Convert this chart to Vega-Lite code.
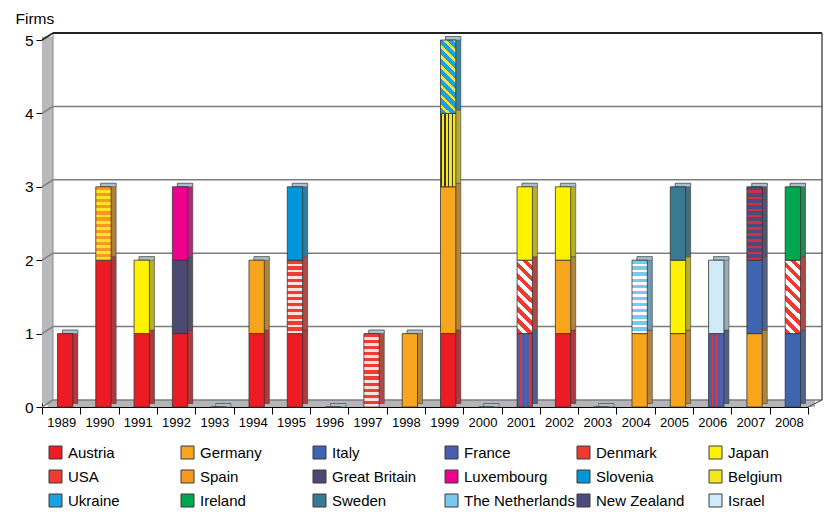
{
"$schema":"https://vega.github.io/schema/vega-lite/v6.json",
"width":766,"height":367,"autosize":"none",
"padding":{"left":42,"top":40,"right":17,"bottom":110},
"background":"#ffffff",
"config":{"view":{"stroke":null},"font":"Liberation Sans",
 "axis":{"labelOverlap":false},
 "axisX":{"labelAngle":0,"tickBand":"extent","tickSize":7,"tickColor":"#000","tickWidth":1,"domainColor":"#000","domainWidth":1,"labelFontSize":13,"labelColor":"#000","labelPadding":2,"zindex":1,"labelFont":"Liberation Sans","grid":false},
 "axisY":{"grid":false,"tickSize":6,"tickColor":"#000","domainColor":"#000","domainWidth":1,"labelFontSize":15.5,"labelColor":"#000","labelPadding":3,"labelOverlap":false,"zindex":1,"titleAngle":0,"titleAlign":"left","titleBaseline":"alphabetic","titleX":-27,"titleY":-17,"titleFontSize":15.5,"titleFontWeight":"normal","titleColor":"#000","titleFont":"Liberation Sans","labelFont":"Liberation Sans"}
},
"datasets":{
"countries":[{"country":"Austria","k":0},{"country":"Germany","k":1},{"country":"Italy","k":2},{"country":"France","k":3},{"country":"Denmark","k":4},{"country":"Japan","k":5},{"country":"USA","k":6},{"country":"Spain","k":7},{"country":"Great Britain","k":8},{"country":"Luxembourg","k":9},{"country":"Slovenia","k":10},{"country":"Belgium","k":11},{"country":"Ukraine","k":12},{"country":"Ireland","k":13},{"country":"Sweden","k":14},{"country":"The Netherlands","k":15},{"country":"New Zealand","k":16},{"country":"Israel","k":17}],
"firms":[
{"year":"1989","country":"Austria","n":1},
{"year":"1990","country":"Austria","n":2},{"year":"1990","country":"Spain","n":1},
{"year":"1991","country":"Austria","n":1},{"year":"1991","country":"Japan","n":1},
{"year":"1992","country":"Austria","n":1},{"year":"1992","country":"Great Britain","n":1},{"year":"1992","country":"Luxembourg","n":1},
{"year":"1993","country":"Austria","n":0},
{"year":"1994","country":"Austria","n":1},{"year":"1994","country":"Germany","n":1},
{"year":"1995","country":"Austria","n":1},{"year":"1995","country":"USA","n":1},{"year":"1995","country":"Slovenia","n":1},
{"year":"1996","country":"Austria","n":0},
{"year":"1997","country":"USA","n":1},
{"year":"1998","country":"Germany","n":1},
{"year":"1999","country":"Austria","n":1},{"year":"1999","country":"Germany","n":2},{"year":"1999","country":"Belgium","n":1},{"year":"1999","country":"Ukraine","n":1},
{"year":"2000","country":"Austria","n":0},
{"year":"2001","country":"France","n":1},{"year":"2001","country":"Denmark","n":1},{"year":"2001","country":"Japan","n":1},
{"year":"2002","country":"Austria","n":1},{"year":"2002","country":"Germany","n":1},{"year":"2002","country":"Japan","n":1},
{"year":"2003","country":"Austria","n":0},
{"year":"2004","country":"Germany","n":1},{"year":"2004","country":"The Netherlands","n":1},
{"year":"2005","country":"Germany","n":1},{"year":"2005","country":"Japan","n":1},{"year":"2005","country":"Sweden","n":1},
{"year":"2006","country":"France","n":1},{"year":"2006","country":"Israel","n":1},
{"year":"2007","country":"Germany","n":1},{"year":"2007","country":"Italy","n":1},{"year":"2007","country":"New Zealand","n":1},
{"year":"2008","country":"Italy","n":1},{"year":"2008","country":"Denmark","n":1},{"year":"2008","country":"Ireland","n":1}
]},
"layer":[
{"data":{"values":[{}]},"mark":{"type":"rect","fill":"#ffffff","xOffset":11,"x2Offset":14,"yOffset":-7,"y2Offset":-7},
 "encoding":{"x":{"value":0},"x2":{"value":"width"},"y":{"datum":5,"type":"quantitative","axis":{"values":[0,1,2,3,4,5],"format":"d","labelOverlap":false}},"y2":{"datum":0}}},
{"data":{"values":[{}]},"mark":{"type":"rect","fill":"#b9b9bd","x2Offset":11,"yOffset":-3.5,"y2Offset":-3.5},
 "encoding":{"x":{"value":0},"x2":{"value":0},"y":{"datum":5,"type":"quantitative"},"y2":{"datum":0}}},
{"data":{"values":[{}]},"mark":{"type":"rect","fill":"#b5b5b9","xOffset":5.5,"x2Offset":7,"yOffset":-7},
 "encoding":{"x":{"value":0},"x2":{"value":"width"},"y":{"datum":0,"type":"quantitative"},"y2":{"datum":0}}},
{"data":{"values":[{"g":0},{"g":1},{"g":2},{"g":3},{"g":4}]},"mark":{"type":"rule","stroke":"#7d7d7d","strokeWidth":1.5,"xOffset":11,"x2Offset":14,"yOffset":-7},
 "encoding":{"x":{"value":0},"x2":{"value":"width"},"y":{"field":"g","type":"quantitative","title":"Firms","axis":{"values":[0,1,2,3,4,5],"format":"d","labelOverlap":false}}}},
{"data":{"values":[{"g":0},{"g":1},{"g":2},{"g":3},{"g":4}]},"mark":{"type":"rule","stroke":"#7d7d7d","strokeWidth":1.5,"x2Offset":11,"y2Offset":-7},
 "encoding":{"x":{"value":0},"x2":{"value":0},"y":{"field":"g","type":"quantitative","title":"Firms","axis":{"values":[0,1,2,3,4,5],"format":"d","labelOverlap":false}},"y2":{"field":"g"}}},
{"data":{"values":[{}]},"mark":{"type":"rule","stroke":"#8a8a8a","strokeWidth":1,"xOffset":11,"yOffset":-7,"y2Offset":-7},
 "encoding":{"x":{"value":0},"y":{"datum":5,"type":"quantitative"},"y2":{"datum":0}}},
{"data":{"values":[{}]},"mark":{"type":"rule","stroke":"#222222","strokeWidth":2,"xOffset":11,"x2Offset":14,"yOffset":-7},
 "encoding":{"x":{"value":0},"x2":{"value":"width"},"y":{"datum":5,"type":"quantitative"}}},
{"data":{"values":[{}]},"mark":{"type":"rule","stroke":"#222222","strokeWidth":1.5,"x2Offset":11,"y2Offset":-7},
 "encoding":{"x":{"value":0},"x2":{"value":0},"y":{"datum":5,"type":"quantitative"},"y2":{"datum":5}}},
{"data":{"values":[{}]},"mark":{"type":"rule","stroke":"#555555","strokeWidth":1.5,"xOffset":14,"yOffset":-7,"y2Offset":-7},
 "encoding":{"x":{"value":"width"},"y":{"datum":5,"type":"quantitative"},"y2":{"datum":0}}},
{"data":{"values":[{}]},"mark":{"type":"rule","stroke":"#555555","strokeWidth":1.2,"x2Offset":14,"y2Offset":-7},
 "encoding":{"x":{"value":"width"},"x2":{"value":"width"},"y":{"datum":0,"type":"quantitative"},"y2":{"datum":0}}},
{"data":{"name":"firms"},"transform":[{"lookup":"country","from":{"data":{"name":"countries"},"key":"country","fields":["k"]}}],
 "mark":{"type":"bar","width":{"band":0.4},"xOffset":9,"yOffset":-3.5,"y2Offset":-3.5,"stroke":"#3a3a3a","strokeWidth":0.6},
 "encoding":{
  "x":{"field":"year","type":"ordinal","title":null,"scale":{"domain":["1989","1990","1991","1992","1993","1994","1995","1996","1997","1998","1999","2000","2001","2002","2003","2004","2005","2006","2007","2008"],"paddingInner":0,"paddingOuter":0}},
  "y":{"field":"n","type":"quantitative","stack":"zero","title":"Firms","axis":{"values":[0,1,2,3,4,5],"format":"d","labelOverlap":false}},
  "order":{"field":"k","type":"quantitative","sort":"ascending"},
  "color":{"field":"country","type":"nominal"}}},
{"data":{"name":"firms"},"transform":[{"aggregate":[{"op":"sum","field":"n","as":"total"}],"groupby":["year"]}],
 "mark":{"type":"bar","width":{"band":0.4},"xOffset":9,"yOffset":-3.5,"y2Offset":-3.5,"fill":"#606060","fillOpacity":0.45},
 "encoding":{"x":{"field":"year","type":"ordinal","title":null},"y":{"field":"total","type":"quantitative","title":"Firms","axis":{"values":[0,1,2,3,4,5],"format":"d","labelOverlap":false}},"y2":{"datum":0}}},
{"data":{"name":"firms"},"transform":[{"aggregate":[{"op":"sum","field":"n","as":"total"}],"groupby":["year"]}],
 "mark":{"type":"bar","width":{"band":0.4},"xOffset":9,"yOffset":-3.5,"fill":"#a9c1cd","stroke":"#555555","strokeWidth":0.6},
 "encoding":{"x":{"field":"year","type":"ordinal","title":null},"y":{"field":"total","type":"quantitative","title":"Firms","axis":{"values":[0,1,2,3,4,5],"format":"d","labelOverlap":false}},"y2":{"field":"total"}}},
{"data":{"name":"firms"},"transform":[{"lookup":"country","from":{"data":{"name":"countries"},"key":"country","fields":["k"]}}],
 "mark":{"type":"bar","width":{"band":0.4},"xOffset":4,"stroke":"#333333","strokeWidth":0.8},
 "encoding":{
  "x":{"field":"year","type":"ordinal","title":null},
  "y":{"field":"n","type":"quantitative","stack":"zero","title":"Firms","scale":{"domain":[0,5],"nice":false},"axis":{"values":[0,1,2,3,4,5],"format":"d","labelOverlap":false}},
  "order":{"field":"k","type":"quantitative","sort":"ascending"},
  "color":{
   "condition":[
    {"test":"datum.country === 'USA'","value":{"gradient":"linear","x1":1,"y1":0,"x2":1,"y2":1,"stops":[
{"offset":0,"color":"#ef3b32"},{"offset":0.045,"color":"#ef3b32"},{"offset":0.045,"color":"#fde2dc"},{"offset":0.0833,"color":"#fde2dc"},
{"offset":0.0833,"color":"#ef3b32"},{"offset":0.1283,"color":"#ef3b32"},{"offset":0.1283,"color":"#fde2dc"},{"offset":0.1667,"color":"#fde2dc"},
{"offset":0.1667,"color":"#ef3b32"},{"offset":0.2117,"color":"#ef3b32"},{"offset":0.2117,"color":"#fde2dc"},{"offset":0.25,"color":"#fde2dc"},
{"offset":0.25,"color":"#ef3b32"},{"offset":0.295,"color":"#ef3b32"},{"offset":0.295,"color":"#fde2dc"},{"offset":0.3333,"color":"#fde2dc"},
{"offset":0.3333,"color":"#ef3b32"},{"offset":0.3783,"color":"#ef3b32"},{"offset":0.3783,"color":"#fde2dc"},{"offset":0.4167,"color":"#fde2dc"},
{"offset":0.4167,"color":"#ef3b32"},{"offset":0.4617,"color":"#ef3b32"},{"offset":0.4617,"color":"#fde2dc"},{"offset":0.5,"color":"#fde2dc"},
{"offset":0.5,"color":"#ef3b32"},{"offset":0.545,"color":"#ef3b32"},{"offset":0.545,"color":"#fde2dc"},{"offset":0.5833,"color":"#fde2dc"},
{"offset":0.5833,"color":"#ef3b32"},{"offset":0.6283,"color":"#ef3b32"},{"offset":0.6283,"color":"#fde2dc"},{"offset":0.6667,"color":"#fde2dc"},
{"offset":0.6667,"color":"#ef3b32"},{"offset":0.7117,"color":"#ef3b32"},{"offset":0.7117,"color":"#fde2dc"},{"offset":0.75,"color":"#fde2dc"},
{"offset":0.75,"color":"#ef3b32"},{"offset":0.795,"color":"#ef3b32"},{"offset":0.795,"color":"#fde2dc"},{"offset":0.8333,"color":"#fde2dc"},
{"offset":0.8333,"color":"#ef3b32"},{"offset":0.8783,"color":"#ef3b32"},{"offset":0.8783,"color":"#fde2dc"},{"offset":0.9167,"color":"#fde2dc"},
{"offset":0.9167,"color":"#ef3b32"},{"offset":0.9617,"color":"#ef3b32"},{"offset":0.9617,"color":"#fde2dc"},{"offset":1,"color":"#fde2dc"}]}},
    {"test":"datum.country === 'Spain'","value":{"gradient":"linear","x1":1,"y1":0,"x2":1,"y2":1,"stops":[
{"offset":0,"color":"#f59a1f"},{"offset":0.045,"color":"#f59a1f"},{"offset":0.045,"color":"#ffe32a"},{"offset":0.0833,"color":"#ffe32a"},
{"offset":0.0833,"color":"#f59a1f"},{"offset":0.1283,"color":"#f59a1f"},{"offset":0.1283,"color":"#ffe32a"},{"offset":0.1667,"color":"#ffe32a"},
{"offset":0.1667,"color":"#f59a1f"},{"offset":0.2117,"color":"#f59a1f"},{"offset":0.2117,"color":"#ffe32a"},{"offset":0.25,"color":"#ffe32a"},
{"offset":0.25,"color":"#f59a1f"},{"offset":0.295,"color":"#f59a1f"},{"offset":0.295,"color":"#ffe32a"},{"offset":0.3333,"color":"#ffe32a"},
{"offset":0.3333,"color":"#f59a1f"},{"offset":0.3783,"color":"#f59a1f"},{"offset":0.3783,"color":"#ffe32a"},{"offset":0.4167,"color":"#ffe32a"},
{"offset":0.4167,"color":"#f59a1f"},{"offset":0.4617,"color":"#f59a1f"},{"offset":0.4617,"color":"#ffe32a"},{"offset":0.5,"color":"#ffe32a"},
{"offset":0.5,"color":"#f59a1f"},{"offset":0.545,"color":"#f59a1f"},{"offset":0.545,"color":"#ffe32a"},{"offset":0.5833,"color":"#ffe32a"},
{"offset":0.5833,"color":"#f59a1f"},{"offset":0.6283,"color":"#f59a1f"},{"offset":0.6283,"color":"#ffe32a"},{"offset":0.6667,"color":"#ffe32a"},
{"offset":0.6667,"color":"#f59a1f"},{"offset":0.7117,"color":"#f59a1f"},{"offset":0.7117,"color":"#ffe32a"},{"offset":0.75,"color":"#ffe32a"},
{"offset":0.75,"color":"#f59a1f"},{"offset":0.795,"color":"#f59a1f"},{"offset":0.795,"color":"#ffe32a"},{"offset":0.8333,"color":"#ffe32a"},
{"offset":0.8333,"color":"#f59a1f"},{"offset":0.8783,"color":"#f59a1f"},{"offset":0.8783,"color":"#ffe32a"},{"offset":0.9167,"color":"#ffe32a"},
{"offset":0.9167,"color":"#f59a1f"},{"offset":0.9617,"color":"#f59a1f"},{"offset":0.9617,"color":"#ffe32a"},{"offset":1,"color":"#ffe32a"}]}},
    {"test":"datum.country === 'The Netherlands'","value":{"gradient":"linear","x1":1,"y1":0,"x2":1,"y2":1,"stops":[
{"offset":0,"color":"#7cc8ec"},{"offset":0.045,"color":"#7cc8ec"},{"offset":0.045,"color":"#ffffff"},{"offset":0.0833,"color":"#ffffff"},
{"offset":0.0833,"color":"#7cc8ec"},{"offset":0.1283,"color":"#7cc8ec"},{"offset":0.1283,"color":"#ffffff"},{"offset":0.1667,"color":"#ffffff"},
{"offset":0.1667,"color":"#7cc8ec"},{"offset":0.2117,"color":"#7cc8ec"},{"offset":0.2117,"color":"#ffffff"},{"offset":0.25,"color":"#ffffff"},
{"offset":0.25,"color":"#7cc8ec"},{"offset":0.295,"color":"#7cc8ec"},{"offset":0.295,"color":"#ffffff"},{"offset":0.3333,"color":"#ffffff"},
{"offset":0.3333,"color":"#7cc8ec"},{"offset":0.3783,"color":"#7cc8ec"},{"offset":0.3783,"color":"#ffffff"},{"offset":0.4167,"color":"#ffffff"},
{"offset":0.4167,"color":"#7cc8ec"},{"offset":0.4617,"color":"#7cc8ec"},{"offset":0.4617,"color":"#ffffff"},{"offset":0.5,"color":"#ffffff"},
{"offset":0.5,"color":"#7cc8ec"},{"offset":0.545,"color":"#7cc8ec"},{"offset":0.545,"color":"#ffffff"},{"offset":0.5833,"color":"#ffffff"},
{"offset":0.5833,"color":"#7cc8ec"},{"offset":0.6283,"color":"#7cc8ec"},{"offset":0.6283,"color":"#ffffff"},{"offset":0.6667,"color":"#ffffff"},
{"offset":0.6667,"color":"#7cc8ec"},{"offset":0.7117,"color":"#7cc8ec"},{"offset":0.7117,"color":"#ffffff"},{"offset":0.75,"color":"#ffffff"},
{"offset":0.75,"color":"#7cc8ec"},{"offset":0.795,"color":"#7cc8ec"},{"offset":0.795,"color":"#ffffff"},{"offset":0.8333,"color":"#ffffff"},
{"offset":0.8333,"color":"#7cc8ec"},{"offset":0.8783,"color":"#7cc8ec"},{"offset":0.8783,"color":"#ffffff"},{"offset":0.9167,"color":"#ffffff"},
{"offset":0.9167,"color":"#7cc8ec"},{"offset":0.9617,"color":"#7cc8ec"},{"offset":0.9617,"color":"#ffffff"},{"offset":1,"color":"#ffffff"}]}},
    {"test":"datum.country === 'New Zealand'","value":{"gradient":"linear","x1":1,"y1":0,"x2":1,"y2":1,"stops":[
{"offset":0,"color":"#4d4a7d"},{"offset":0.05,"color":"#4d4a7d"},{"offset":0.05,"color":"#d0333f"},{"offset":0.0833,"color":"#d0333f"},
{"offset":0.0833,"color":"#4d4a7d"},{"offset":0.1333,"color":"#4d4a7d"},{"offset":0.1333,"color":"#d0333f"},{"offset":0.1667,"color":"#d0333f"},
{"offset":0.1667,"color":"#4d4a7d"},{"offset":0.2167,"color":"#4d4a7d"},{"offset":0.2167,"color":"#d0333f"},{"offset":0.25,"color":"#d0333f"},
{"offset":0.25,"color":"#4d4a7d"},{"offset":0.3,"color":"#4d4a7d"},{"offset":0.3,"color":"#d0333f"},{"offset":0.3333,"color":"#d0333f"},
{"offset":0.3333,"color":"#4d4a7d"},{"offset":0.3833,"color":"#4d4a7d"},{"offset":0.3833,"color":"#d0333f"},{"offset":0.4167,"color":"#d0333f"},
{"offset":0.4167,"color":"#4d4a7d"},{"offset":0.4667,"color":"#4d4a7d"},{"offset":0.4667,"color":"#d0333f"},{"offset":0.5,"color":"#d0333f"},
{"offset":0.5,"color":"#4d4a7d"},{"offset":0.55,"color":"#4d4a7d"},{"offset":0.55,"color":"#d0333f"},{"offset":0.5833,"color":"#d0333f"},
{"offset":0.5833,"color":"#4d4a7d"},{"offset":0.6333,"color":"#4d4a7d"},{"offset":0.6333,"color":"#d0333f"},{"offset":0.6667,"color":"#d0333f"},
{"offset":0.6667,"color":"#4d4a7d"},{"offset":0.7167,"color":"#4d4a7d"},{"offset":0.7167,"color":"#d0333f"},{"offset":0.75,"color":"#d0333f"},
{"offset":0.75,"color":"#4d4a7d"},{"offset":0.8,"color":"#4d4a7d"},{"offset":0.8,"color":"#d0333f"},{"offset":0.8333,"color":"#d0333f"},
{"offset":0.8333,"color":"#4d4a7d"},{"offset":0.8833,"color":"#4d4a7d"},{"offset":0.8833,"color":"#d0333f"},{"offset":0.9167,"color":"#d0333f"},
{"offset":0.9167,"color":"#4d4a7d"},{"offset":0.9667,"color":"#4d4a7d"},{"offset":0.9667,"color":"#d0333f"},{"offset":1,"color":"#d0333f"}]}},
    {"test":"datum.country === 'Denmark'","value":{"gradient":"linear","x1":0,"y1":1,"x2":0.24,"y2":-0.16,"stops":[
{"offset":0,"color":"#ee3a31"},{"offset":0.0625,"color":"#ee3a31"},{"offset":0.0625,"color":"#ffffff"},{"offset":0.125,"color":"#ffffff"},
{"offset":0.125,"color":"#ee3a31"},{"offset":0.1875,"color":"#ee3a31"},{"offset":0.1875,"color":"#ffffff"},{"offset":0.25,"color":"#ffffff"},
{"offset":0.25,"color":"#ee3a31"},{"offset":0.3125,"color":"#ee3a31"},{"offset":0.3125,"color":"#ffffff"},{"offset":0.375,"color":"#ffffff"},
{"offset":0.375,"color":"#ee3a31"},{"offset":0.4375,"color":"#ee3a31"},{"offset":0.4375,"color":"#ffffff"},{"offset":0.5,"color":"#ffffff"},
{"offset":0.5,"color":"#ee3a31"},{"offset":0.5625,"color":"#ee3a31"},{"offset":0.5625,"color":"#ffffff"},{"offset":0.625,"color":"#ffffff"},
{"offset":0.625,"color":"#ee3a31"},{"offset":0.6875,"color":"#ee3a31"},{"offset":0.6875,"color":"#ffffff"},{"offset":0.75,"color":"#ffffff"},
{"offset":0.75,"color":"#ee3a31"},{"offset":0.8125,"color":"#ee3a31"},{"offset":0.8125,"color":"#ffffff"},{"offset":0.875,"color":"#ffffff"},
{"offset":0.875,"color":"#ee3a31"},{"offset":0.9375,"color":"#ee3a31"},{"offset":0.9375,"color":"#ffffff"},{"offset":1,"color":"#ffffff"}]}},
    {"test":"datum.country === 'Ukraine'","value":{"gradient":"linear","x1":0,"y1":1,"x2":0.24,"y2":-0.16,"stops":[
{"offset":0,"color":"#1ba1dd"},{"offset":0.07,"color":"#1ba1dd"},{"offset":0.07,"color":"#f3e53a"},{"offset":0.111,"color":"#f3e53a"},
{"offset":0.111,"color":"#1ba1dd"},{"offset":0.181,"color":"#1ba1dd"},{"offset":0.181,"color":"#f3e53a"},{"offset":0.222,"color":"#f3e53a"},
{"offset":0.222,"color":"#1ba1dd"},{"offset":0.292,"color":"#1ba1dd"},{"offset":0.292,"color":"#f3e53a"},{"offset":0.333,"color":"#f3e53a"},
{"offset":0.333,"color":"#1ba1dd"},{"offset":0.403,"color":"#1ba1dd"},{"offset":0.403,"color":"#f3e53a"},{"offset":0.444,"color":"#f3e53a"},
{"offset":0.444,"color":"#1ba1dd"},{"offset":0.514,"color":"#1ba1dd"},{"offset":0.514,"color":"#f3e53a"},{"offset":0.556,"color":"#f3e53a"},
{"offset":0.556,"color":"#1ba1dd"},{"offset":0.626,"color":"#1ba1dd"},{"offset":0.626,"color":"#f3e53a"},{"offset":0.667,"color":"#f3e53a"},
{"offset":0.667,"color":"#1ba1dd"},{"offset":0.737,"color":"#1ba1dd"},{"offset":0.737,"color":"#f3e53a"},{"offset":0.778,"color":"#f3e53a"},
{"offset":0.778,"color":"#1ba1dd"},{"offset":0.848,"color":"#1ba1dd"},{"offset":0.848,"color":"#f3e53a"},{"offset":0.889,"color":"#f3e53a"},
{"offset":0.889,"color":"#1ba1dd"},{"offset":0.959,"color":"#1ba1dd"},{"offset":0.959,"color":"#f3e53a"},{"offset":1,"color":"#f3e53a"}]}},
    {"test":"datum.country === 'France'","value":{"gradient":"linear","x1":0,"y1":0,"x2":1,"y2":0,"stops":[
{"offset":0,"color":"#4a5fab"},{"offset":0.2,"color":"#4a5fab"},{"offset":0.2,"color":"#e0353b"},{"offset":0.3,"color":"#e0353b"},
{"offset":0.3,"color":"#4a5fab"},{"offset":0.5,"color":"#4a5fab"},{"offset":0.5,"color":"#e0353b"},{"offset":0.6,"color":"#e0353b"},
{"offset":0.6,"color":"#4a5fab"},{"offset":0.8,"color":"#4a5fab"},{"offset":0.8,"color":"#e0353b"},{"offset":0.9,"color":"#e0353b"},
{"offset":0.9,"color":"#4a5fab"},{"offset":1,"color":"#4a5fab"}]}},
    {"test":"datum.country === 'Belgium'","value":{"gradient":"linear","x1":0,"y1":0,"x2":1,"y2":0,"stops":[
{"offset":0,"color":"#3a3520"},{"offset":0.08,"color":"#3a3520"},{"offset":0.08,"color":"#f5e61e"},{"offset":0.25,"color":"#f5e61e"},
{"offset":0.25,"color":"#3a3520"},{"offset":0.33,"color":"#3a3520"},{"offset":0.33,"color":"#f5e61e"},{"offset":0.5,"color":"#f5e61e"},
{"offset":0.5,"color":"#3a3520"},{"offset":0.58,"color":"#3a3520"},{"offset":0.58,"color":"#f5e61e"},{"offset":0.75,"color":"#f5e61e"},
{"offset":0.75,"color":"#3a3520"},{"offset":0.83,"color":"#3a3520"},{"offset":0.83,"color":"#f5e61e"},{"offset":1,"color":"#f5e61e"}]}}
   ],
   "field":"country","type":"nominal",
   "scale":{"domain":["Austria","Germany","Italy","France","Denmark","Japan","USA","Spain","Great Britain","Luxembourg","Slovenia","Belgium","Ukraine","Ireland","Sweden","The Netherlands","New Zealand","Israel"],
    "range":["#ed1c24","#f6a51d","#4065b0","#4a5fab","#ee3a31","#fff200","#ef3b32","#f59a1f","#4b4872","#ec008c","#0096d9","#f5e61e","#1ba1dd","#00a650","#387a92","#7cc8ec","#4d4a7d","#cfeaf8"]},
   "legend":{"title":null,"orient":"none","direction":"horizontal","legendX":6,"legendY":405,"columns":6,"gridAlign":"all","symbolType":"square","symbolSize":169,"symbolStrokeColor":"#333333","symbolStrokeWidth":1,"symbolOpacity":1,"labelFontSize":15,"labelFont":"Liberation Sans","labelColor":"#000000","labelOffset":5,"rowPadding":7,"columnPadding":0,"padding":0,"labelLimit":200}
  }}}
]
}
